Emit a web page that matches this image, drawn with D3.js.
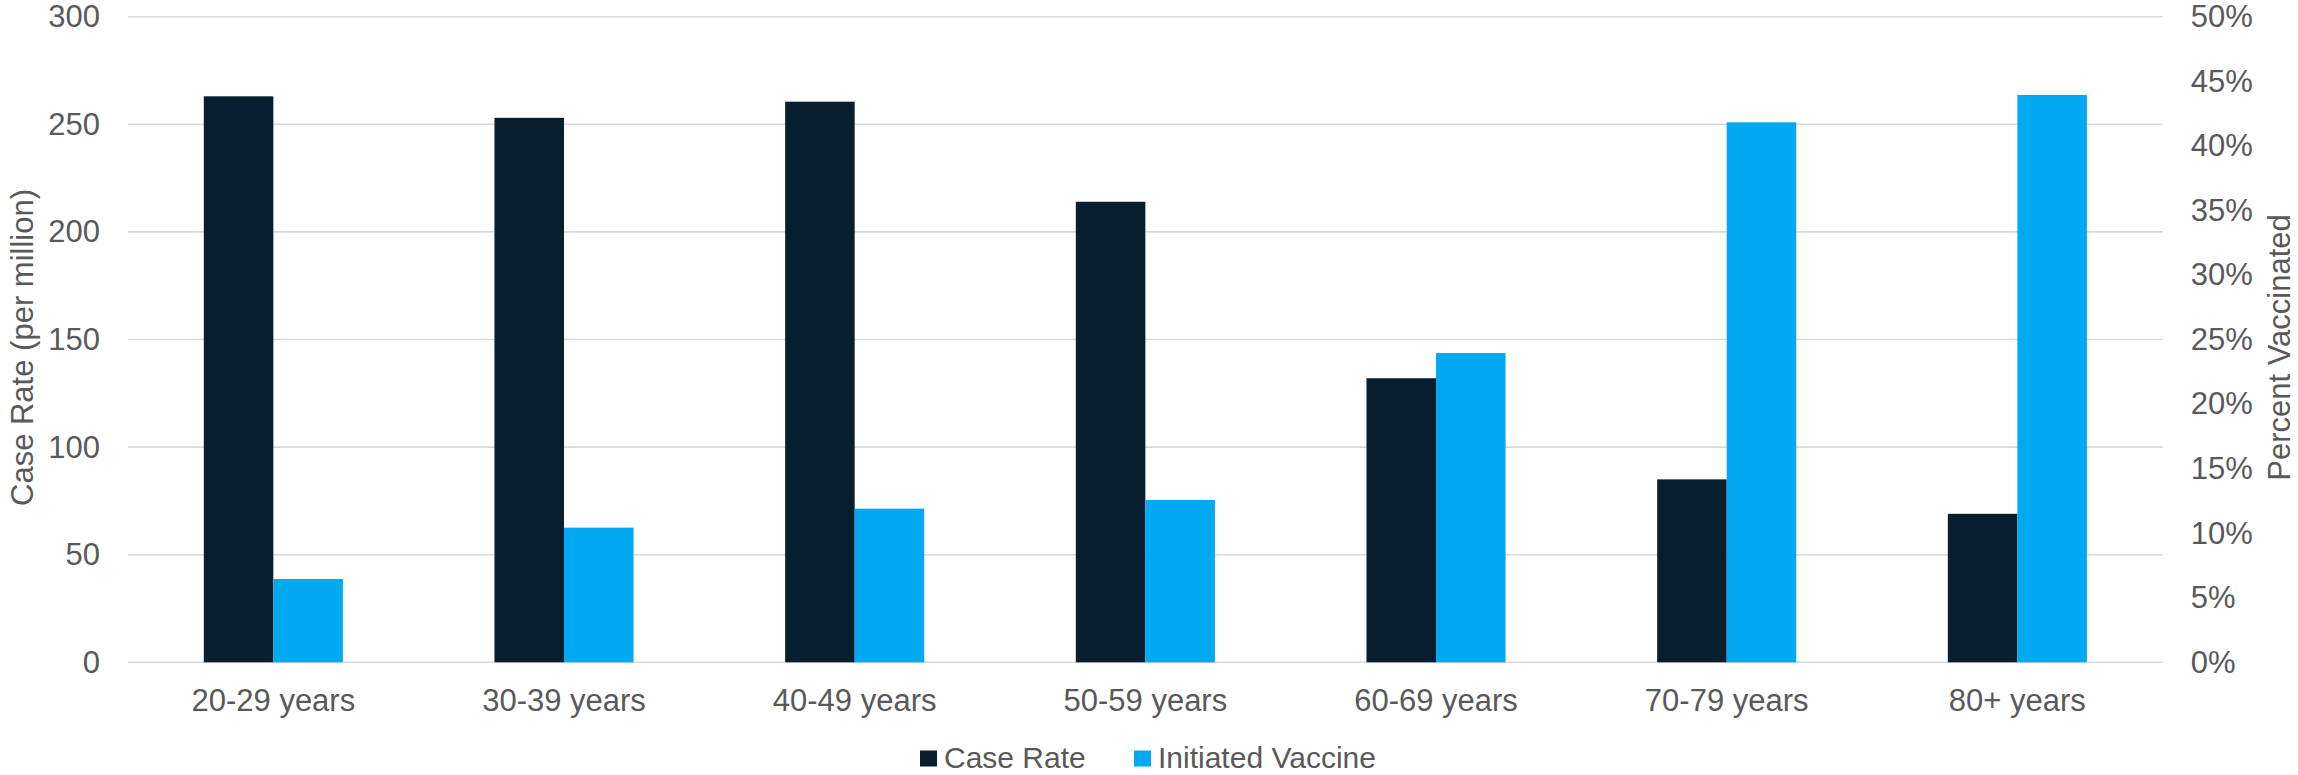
<!DOCTYPE html>
<html>
<head>
<meta charset="utf-8">
<script src="https://cdn.jsdelivr.net/npm/d3@7"></script>
<style>
  html, body { margin: 0; padding: 0; background: #ffffff; }
  svg { display: block; }
  text { font-family: "Liberation Sans", Arial, sans-serif; fill: #595959; }
</style>
</head>
<body>
<svg id="chart" width="2298" height="775"></svg>
<script>
// ---- Data ----
const categories = ["20-29 years", "30-39 years", "40-49 years", "50-59 years", "60-69 years", "70-79 years", "80+ years"];
const caseRate = [263, 253, 260.5, 214, 132, 85, 69];            // per million (left axis)
const initiatedVaccine = [0.0645, 0.1043, 0.119, 0.1257, 0.2395, 0.4182, 0.4394]; // share (right axis)
const seriesNames = ["Case Rate", "Initiated Vaccine"];
const leftTicks = [0, 50, 100, 150, 200, 250, 300];
const rightTicks = [0, 0.05, 0.10, 0.15, 0.20, 0.25, 0.30, 0.35, 0.40, 0.45, 0.50];

// ---- Layout ----
const W = 2298, H = 775;
const plot = { left: 128, right: 2162.7, top: 16.7, bottom: 662.3 };
const colors = { "Case Rate": "#071e2e", "Initiated Vaccine": "#00a9f1" };
const fontSize = 31;

const svg = d3.select("#chart");

const x0 = d3.scaleBand().domain(categories).range([plot.left, plot.right]).paddingInner(0).paddingOuter(0);
const x1 = d3.scaleBand().domain(seriesNames).range([0, x0.bandwidth()]).paddingInner(0).paddingOuter(1.09);
const yL = d3.scaleLinear().domain([0, 300]).range([plot.bottom, plot.top]);
const yR = d3.scaleLinear().domain([0, 0.5]).range([plot.bottom, plot.top]);

// Gridlines
svg.append("g")
  .selectAll("line")
  .data(leftTicks)
  .join("line")
  .attr("x1", plot.left).attr("x2", plot.right)
  .attr("y1", d => yL(d)).attr("y2", d => yL(d))
  .attr("stroke", "#d9d9d9").attr("stroke-width", 1.6);

// Bars
const rows = categories.map((c, i) => ({ cat: c, values: [
  { name: "Case Rate", v: caseRate[i], y: yL(caseRate[i]) },
  { name: "Initiated Vaccine", v: initiatedVaccine[i], y: yR(initiatedVaccine[i]) }
]}));

const groups = svg.append("g").selectAll("g").data(rows).join("g")
  .attr("transform", d => `translate(${x0(d.cat)},0)`);
groups.selectAll("rect").data(d => d.values).join("rect")
  .attr("x", d => x1(d.name))
  .attr("width", x1.bandwidth())
  .attr("y", d => d.y)
  .attr("height", d => plot.bottom - d.y)
  .attr("fill", d => colors[d.name]);

// Left axis
const gL = svg.append("g").attr("transform", `translate(${plot.left},0)`)
  .call(d3.axisLeft(yL).tickValues(leftTicks).tickSize(0).tickPadding(28).tickFormat(d3.format("d")));
gL.select(".domain").remove();
gL.selectAll("text").style("font-size", fontSize + "px").attr("fill", "#595959");

// Right axis
const gR = svg.append("g").attr("transform", `translate(${plot.right},0)`)
  .call(d3.axisRight(yR).tickValues(rightTicks).tickSize(0).tickPadding(28).tickFormat(d3.format(".0%")));
gR.select(".domain").remove();
gR.selectAll("text").style("font-size", fontSize + "px").attr("fill", "#595959");

// Bottom axis
const gB = svg.append("g").attr("transform", `translate(0,${plot.bottom})`)
  .call(d3.axisBottom(x0).tickSize(0).tickPadding(27));
gB.select(".domain").remove();
gB.selectAll("text").style("font-size", fontSize + "px").attr("fill", "#595959");

// Axis titles
svg.append("text")
  .attr("transform", `translate(33,${(plot.top + plot.bottom) / 2 + 8}) rotate(-90)`)
  .attr("text-anchor", "middle")
  .style("font-size", fontSize + "px")
  .text("Case Rate (per million)");

svg.append("text")
  .attr("transform", `translate(2290,${(plot.top + plot.bottom) / 2 + 8}) rotate(-90)`)
  .attr("text-anchor", "middle")
  .style("font-size", fontSize + "px")
  .text("Percent Vaccinated");

// Legend
const legendItems = [
  { name: seriesNames[0], sx: 920 },
  { name: seriesNames[1], sx: 1134 }
];
const lg = svg.append("g");
lg.selectAll("rect").data(legendItems).join("rect")
  .attr("x", d => d.sx).attr("y", 750.5).attr("width", 17).attr("height", 16)
  .attr("fill", d => colors[d.name]);
lg.selectAll("text").data(legendItems).join("text")
  .attr("x", d => d.sx + 24).attr("y", 768)
  .style("font-size", "30px")
  .text(d => d.name);
</script>
</body>
</html>
